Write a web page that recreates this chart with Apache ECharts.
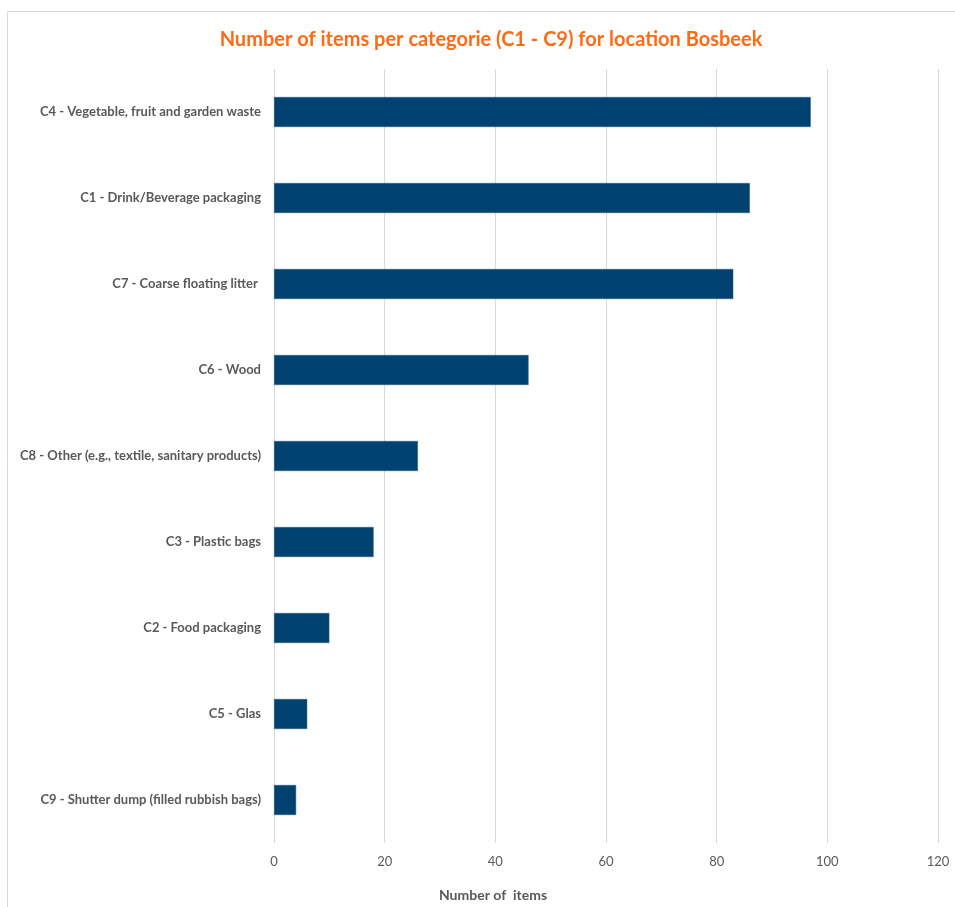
<!DOCTYPE html>
<html>
<head>
<meta charset="utf-8">
<script src="https://cdn.jsdelivr.net/npm/echarts@6/dist/echarts.min.js"></script>
<style>
  html, body { margin: 0; padding: 0; background: #ffffff; }
  #chart { width: 955px; height: 907px; }
</style>
</head>
<body>
<div id="chart"></div>
<script>
// Litter categories, listed bottom to top as the category axis draws them
const categories = [
  'C9 - Shutter dump (filled rubbish bags)',
  'C5 - Glas',
  'C2 - Food packaging',
  'C3 - Plastic bags',
  'C8 - Other (e.g., textile, sanitary products)',
  'C6 - Wood',
  'C7 - Coarse floating litter ',
  'C1 - Drink/Beverage packaging',
  'C4 - Vegetable, fruit and garden waste'
];
const itemCounts = [4, 6, 10, 18, 26, 46, 83, 86, 97];
const axisMin = 0;
const axisMax = 120;
const axisStep = 20;

const chart = echarts.init(document.getElementById('chart'), null, { renderer: 'canvas' });

chart.setOption({
  backgroundColor: '#ffffff',
  animation: false,
  graphic: [{
    type: 'rect',
    shape: { x: 7.5, y: 11.5, width: 970, height: 920 },
    style: { fill: 'none', stroke: '#d9d9d9', lineWidth: 1 },
    silent: true
  }],
  title: [{
    text: 'Number of items per categorie (C1 - C9) for location Bosbeek',
    left: 486,
    top: 25,
    textAlign: 'center',
    textStyle: { fontFamily: 'Lato', fontWeight: 'bold', fontSize: 20, color: '#ff6a13' }
  }, {
    text: 'Number of  items',
    left: 488,
    top: 883,
    textAlign: 'center',
    textStyle: { fontFamily: 'Lato', fontWeight: 'bold', fontSize: 14, color: '#595959' }
  }],
  grid: { left: 274, right: 17, top: 69, bottom: 64, containLabel: false },
  xAxis: {
    type: 'value',
    min: axisMin,
    max: axisMax,
    interval: axisStep,
    axisLine: { show: false },
    axisTick: { show: false },
    splitLine: { show: true, lineStyle: { color: '#d9d9d9', width: 1 } },
    axisLabel: { color: '#595959', fontFamily: 'Lato', fontSize: 13, margin: 12 }
  },
  yAxis: {
    type: 'category',
    data: categories,
    axisLine: { show: false },
    axisTick: { show: false },
    axisLabel: { color: '#595959', fontFamily: 'Lato', fontWeight: 'bold', fontSize: 13, margin: 13 }
  },
  series: [{
    type: 'bar',
    data: itemCounts,
    barWidth: 30,
    itemStyle: { color: '#00426f', borderColor: '#2f5f8a', borderWidth: 0.5 }
  }]
});
</script>
</body>
</html>
